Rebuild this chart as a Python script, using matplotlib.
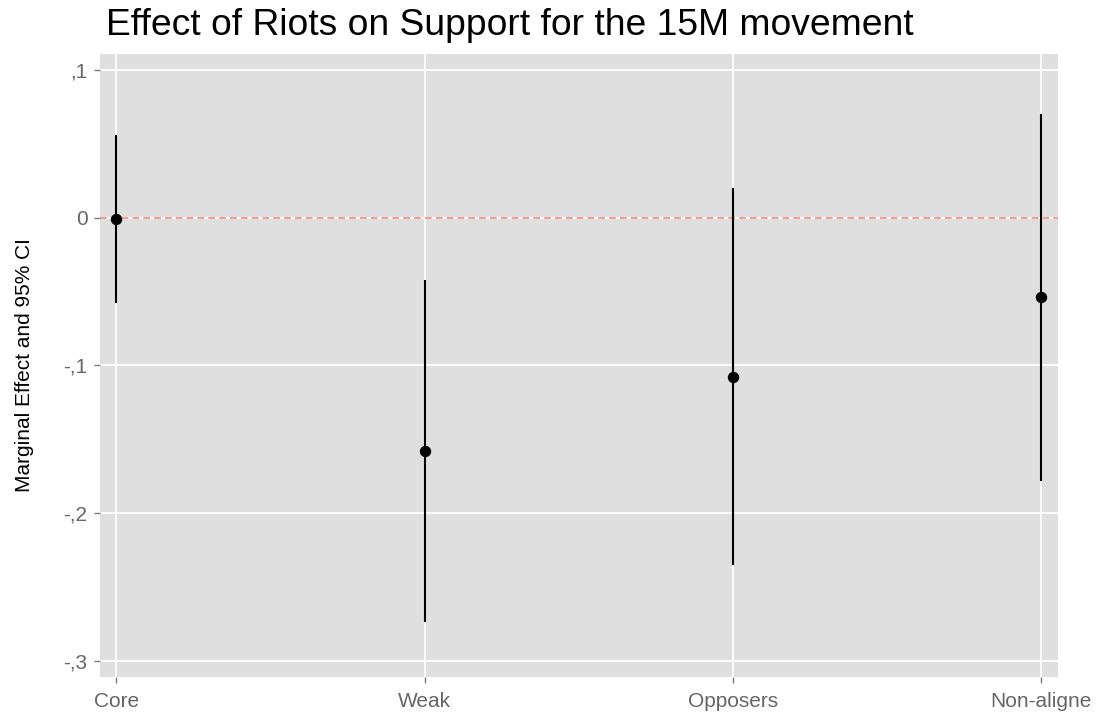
import matplotlib
matplotlib.use("Agg")
import matplotlib.pyplot as plt
import numpy as np

plt.rcParams['font.family'] = ['Liberation Sans', 'DejaVu Sans']

groups = ["Core", "Weak", "Opposers", "Non-aligne"]
estimate = [-0.001, -0.158, -0.108, -0.054]
ci_low = [-0.058, -0.274, -0.235, -0.178]
ci_high = [0.056, -0.042, 0.020, 0.070]
yticks = [0.1, 0.0, -0.1, -0.2, -0.3]
ytick_labels = [",1", "0", "-,1", "-,2", "-,3"]

fig = plt.figure(figsize=(10.96, 7.13), dpi=100)
ax = fig.add_axes([100/1096, 1 - 677/713, (1057.7 - 100)/1096, (677 - 54)/713])
ax.set_facecolor('#DFDFDF')

x = np.arange(len(groups))
ax.set_xlim(-0.053, len(groups) - 1 + 0.053)
ax.set_ylim(-0.311, 0.1108)

ax.set_xticks(x)
ax.set_xticklabels(groups)
ax.set_yticks(yticks)
ax.set_yticklabels(ytick_labels)
ax.grid(True, color='white', linewidth=1.3)
ax.set_axisbelow(True)
for s in ax.spines.values():
    s.set_visible(False)
ax.tick_params(axis='both', colors='#7a7a7a', labelcolor='#666666', labelsize=15,
               length=4, width=1)
ax.tick_params(axis='x', pad=7)
ax.tick_params(axis='y', pad=5)

ax.axhline(0, color='#F08A80', linestyle=(0, (4, 2.5)), linewidth=1.2, zorder=2)
ax.vlines(x, ci_low, ci_high, color='black', linewidth=1.5, zorder=3)
ax.plot(x, estimate, 'o', color='black', markersize=7.2, zorder=4)

fig.text(24.5/1096, 1 - 365/713, "Marginal Effect and 95% CI", fontsize=15,
         color='black', rotation=90, ha='center', va='center')
fig.text(106/1096, 1 - 35/713, "Effect of Riots on Support for the 15M movement",
         fontsize=26.8, color='black', ha='left', va='baseline')

fig.savefig("out.png", dpi=100)
